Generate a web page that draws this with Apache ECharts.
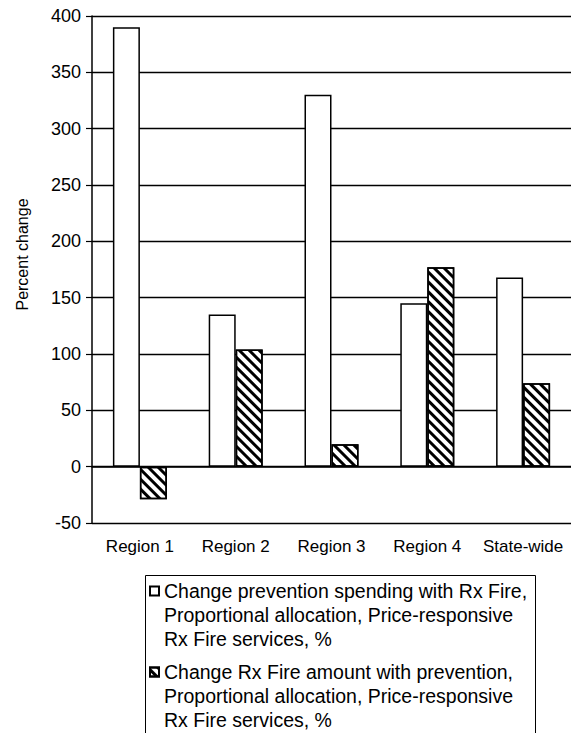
<!DOCTYPE html>
<html>
<head>
<meta charset="utf-8">
<script src="https://cdn.jsdelivr.net/npm/echarts@6/dist/echarts.min.js"></script>
<style>
  html, body { margin: 0; padding: 0; background: #fff; }
  #chart { width: 571px; height: 733px; }
</style>
</head>
<body>
<div id="chart"></div>
<script>
// data
const categories = ['Region 1', 'Region 2', 'Region 3', 'Region 4', 'State-wide']
const preventionChange = [390, 135, 330, 145, 168]
const rxFireChange = [-29, 104, 20, 177, 74]
const seriesNames = [
  'Change prevention spending with Rx Fire,\nProportional allocation, Price-responsive\nRx Fire services, %',
  'Change Rx Fire amount with prevention,\nProportional allocation, Price-responsive\nRx Fire services, %'
]

const font = '"Liberation Sans", Arial, sans-serif'
const chart = echarts.init(document.getElementById('chart'), null, { renderer: 'svg' })

// one legend per series; two blank lines on top keep the icon beside the first line
function legendFor(name, top) {
  return {
    data: [name],
    orient: 'vertical',
    left: 149,
    top: top,
    padding: 0,
    icon: 'rect',
    itemWidth: 9,
    itemHeight: 9,
    selectedMode: false,
    formatter: n => '\n\n' + n,
    textStyle: {
      fontFamily: font,
      fontSize: 19.5,
      lineHeight: 24,
      color: '#000'
    }
  }
}

const option = {
  backgroundColor: '#fff',
  animation: false,
  textStyle: { fontFamily: font },
  grid: { left: 92, top: 16, width: 480, height: 507 },
  legend: [legendFor(seriesNames[0], 531), legendFor(seriesNames[1], 612)],
  graphic: [
    {
      type: 'rect',
      left: 143,
      top: 573,
      shape: { width: 390, height: 200 },
      style: { fill: 'none', stroke: '#000', lineWidth: 1 },
      silent: true
    }
  ],
  xAxis: [
    {
      // zero line with ticks
      type: 'category',
      data: categories,
      position: 'top',
      axisLine: { onZero: true, lineStyle: { color: '#000', width: 1.5 } },
      axisTick: { inside: true, length: 4, lineStyle: { color: '#000', width: 1.2 } },
      axisLabel: { show: false }
    },
    {
      // labels under the plot
      type: 'category',
      data: categories,
      position: 'bottom',
      axisLine: { show: false, onZero: false },
      axisTick: { show: false },
      axisLabel: { color: '#000', fontSize: 17, margin: 15, interval: 0, fontFamily: font }
    }
  ],
  yAxis: {
    type: 'value',
    min: -50,
    max: 400,
    interval: 50,
    name: 'Percent change',
    nameLocation: 'middle',
    nameGap: 62,
    nameTextStyle: { color: '#000', fontSize: 16, fontFamily: font, padding: [0, 0, 0, 30] },
    axisLine: { show: true, lineStyle: { color: '#000', width: 1.5 } },
    axisTick: { show: true, length: 6, lineStyle: { color: '#000', width: 1.2 } },
    axisLabel: { color: '#000', fontSize: 18, margin: 11, fontFamily: font },
    splitLine: { lineStyle: { color: '#000', width: 1.3 } }
  },
  series: [
    {
      name: seriesNames[0],
      type: 'bar',
      xAxisIndex: 0,
      data: preventionChange,
      barWidth: 27,
      barGap: '0%',
      itemStyle: { color: '#fff', borderColor: '#000', borderWidth: 1.5 }
    },
    {
      name: seriesNames[1],
      type: 'bar',
      xAxisIndex: 0,
      data: rxFireChange,
      barWidth: 27,
      barGap: '0%',
      itemStyle: {
        color: '#fff',
        borderColor: '#000',
        borderWidth: 1.5,
        decal: {
          symbol: 'rect',
          symbolSize: 1,
          color: '#000',
          dashArrayX: [1, 0],
          dashArrayY: [3, 4],
          rotation: Math.PI / 4
        }
      }
    }
  ]
}

chart.setOption(option)
</script>
</body>
</html>
